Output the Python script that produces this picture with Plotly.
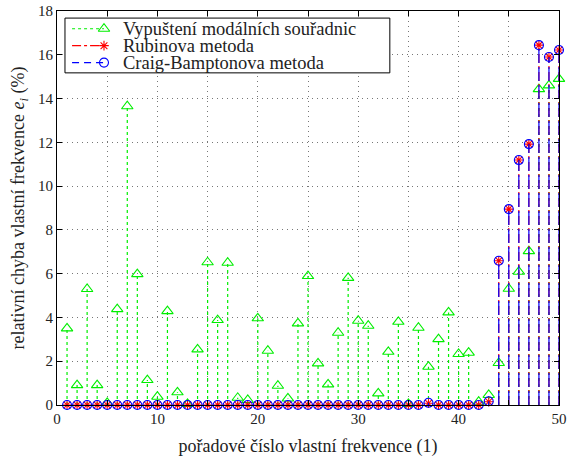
import plotly.graph_objects as go

modes = list(range(1, 51))
vypusteni = [3.50, 0.91, 5.30, 0.91, 0.10, 4.38, 13.65, 5.98, 1.14, 0.38,
             4.29, 0.58, 0.05, 2.54, 6.52, 3.88, 6.50, 0.33, 0.23, 3.96,
             2.48, 0.88, 0.30, 3.73, 5.89, 1.90, 0.94, 3.30, 5.81, 3.85,
             3.62, 0.53, 2.43, 3.80, 0.05, 3.53, 1.75, 3.01, 4.23, 2.33,
             2.39, 0.15, 0.46, 1.92, 5.31, 6.09, 7.03, 14.43, 14.60, 14.90]
rubin = [0]*36 + [0.08] + [0]*5 + [0.15, 6.59, 8.95, 11.19, 11.92, 16.44, 15.90, 16.22]
craig = [0]*36 + [0.10] + [0]*5 + [0.17, 6.59, 8.95, 11.19, 11.92, 16.44, 15.90, 16.22]

names = ["Vypuštení modálních souřadnic", "Rubinova metoda", "Craig-Bamptonova metoda"]
xticks = [0, 5, 10, 15, 20, 25, 30, 35, 40, 45, 50]
xticklabels = ["0", "", "10", "", "20", "", "30", "", "40", "", "50"]
yticks = list(range(0, 19, 2))

FONT = "Liberation Serif"
TXT = "#222222"
fig = go.Figure()

def stems(xs, ys):
    sx, sy = [], []
    for x, y in zip(xs, ys):
        sx += [x, x, None]
        sy += [0, y, None]
    return sx, sy

specs = [
    (vypusteni, "#00ee00", "dot", "triangle-up-open", 10),
    (rubin, "#ff0000", "dashdot", "asterisk-open", 8),
    (craig, "#0000ff", "14px,4px", "circle-open", 9),
]
for vals, col, dash, sym, size in specs:
    sx, sy = stems(modes, vals)
    fig.add_trace(go.Scatter(x=sx, y=sy, mode="lines", line=dict(color=col, dash=dash, width=1.2),
                             showlegend=False, hoverinfo="skip", cliponaxis=False))
    fig.add_trace(go.Scatter(x=modes, y=vals, mode="markers", cliponaxis=False,
                             marker=dict(symbol=sym, size=size, color=col, line=dict(color=col, width=1.1)),
                             showlegend=False))

# ---- manual legend (paper-fraction overlay axis) ----
lx0, lx1 = 0.0159, 0.663
ly0, ly1 = 0.843, 0.982
rows = [0.955, 0.912, 0.869]
seg0, seg1 = 0.030, 0.0936
txt_x = 0.1275
fig.add_trace(go.Scatter(x=[lx0, lx1, lx1, lx0, lx0], y=[ly0, ly0, ly1, ly1, ly0], mode="lines",
                         xaxis="x2", yaxis="y2", fill="toself", fillcolor="white",
                         line=dict(color="black", width=1), showlegend=False, hoverinfo="skip"))
legend_dash = ["dot", "dashdot", "7px,5px"]
for (vals, col, dash, sym, size), name, ry, ld in zip(specs, names, rows, legend_dash):
    fig.add_trace(go.Scatter(x=[seg0, seg1], y=[ry, ry], mode="lines", xaxis="x2", yaxis="y2",
                             line=dict(color=col, dash=ld, width=1.2), showlegend=False, hoverinfo="skip"))
    fig.add_trace(go.Scatter(x=[seg1], y=[ry], mode="markers", xaxis="x2", yaxis="y2", cliponaxis=False,
                             marker=dict(symbol=sym, size=size, color=col, line=dict(color=col, width=1.1)),
                             showlegend=False, hoverinfo="skip"))
    fig.add_annotation(x=txt_x, y=ry, xref="paper", yref="paper", text=name, showarrow=False,
                       xanchor="left", yanchor="middle", font=dict(family=FONT, size=18.5, color=TXT))

axis_common = dict(showline=True, linecolor="black", linewidth=1, mirror="ticks", ticks="inside",
                   ticklen=5, tickcolor="black", showgrid=True, gridcolor="#777777", griddash="1px,4px",
                   gridwidth=1, zeroline=False, ticklabeloverflow="allow", automargin=False,
                   tickfont=dict(family=FONT, size=15, color=TXT))

fig.update_xaxes(range=[0, 50], tickvals=xticks, ticktext=xticklabels,
                 title=dict(text="pořadové číslo vlastní frekvence (1)", font=dict(family=FONT, size=18, color=TXT), standoff=14),
                 **axis_common)
fig.update_yaxes(range=[0, 18], tickvals=yticks,
                 title=dict(text="relativní chyba vlastní frekvence <i>e<sub>i</sub></i> (%)", font=dict(family=FONT, size=18, color=TXT), standoff=8),
                 **axis_common)

fig.update_layout(
    width=567, height=457,
    margin=dict(l=57, r=8, t=11, b=52),
    paper_bgcolor="white", plot_bgcolor="white",
    showlegend=False,
    xaxis2=dict(domain=[0, 1], range=[0, 1], overlaying="x", visible=False, anchor="y2", automargin=False),
    yaxis2=dict(domain=[0, 1], range=[0, 1], overlaying="y", visible=False, anchor="x2", automargin=False),
)
fig.write_html("out.html")
